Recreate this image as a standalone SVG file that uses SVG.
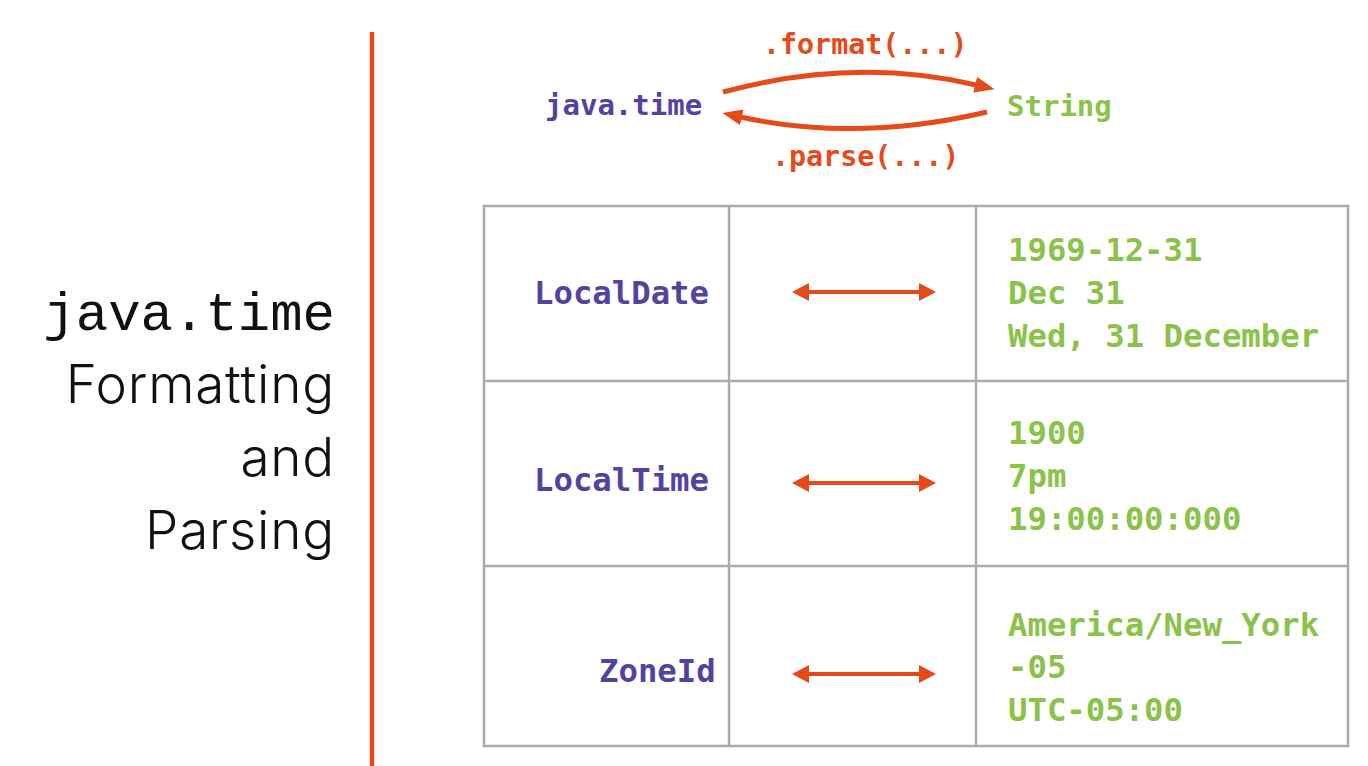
<svg xmlns="http://www.w3.org/2000/svg" width="1368" height="766" viewBox="0 0 1368 766">
<style>
.mono{font-family:"DejaVu Sans Mono","Liberation Mono",monospace;font-weight:bold;}
.purple{fill:#5442A0;}
.green{fill:#8BC34A;}
.orange{fill:#E64A19;}
.cell{font-size:32.3px;}
.top{font-size:29px;}
.title{fill:#111111;font-size:53px;text-anchor:end;}
.sans{font-family:Inter,"Noto Sans",sans-serif;font-weight:300;}
.grid{stroke:#ABABAB;stroke-width:2.5;fill:none;}
.arc{stroke:#E64A19;stroke-width:5;fill:none;}
.dbl{stroke:#E64A19;stroke-width:4;fill:none;}
</style>
<defs>
<marker id="head" markerUnits="userSpaceOnUse" markerWidth="22" markerHeight="18" refX="6" refY="8" orient="auto">
<path d="M0,0 L20,8 L0,16 z" fill="#E64A19"/>
</marker>
<marker id="head2" markerUnits="userSpaceOnUse" markerWidth="20" markerHeight="20" refX="4" refY="9" orient="auto-start-reverse">
<path d="M0,0 L17,9 L0,18 z" fill="#E64A19"/>
</marker>
</defs>
<rect width="1368" height="766" fill="#FFFFFF"/>
<line x1="372" y1="32" x2="372" y2="766" stroke="#E64A19" stroke-width="4.5"/>
<g id="title">
<text x="335" y="330" class="title" style="font-family:'Liberation Mono',monospace;font-size:54px;">java.time</text>
<text x="335" y="403" class="title sans" letter-spacing="0.8">Formatting</text>
<text x="335" y="476" class="title sans" letter-spacing="0.8">and</text>
<text x="335" y="549" class="title sans" letter-spacing="0.8">Parsing</text>
</g>
<g id="node-javatime"><text x="545" y="115" class="mono top purple">java.time</text></g>
<g id="node-string"><text x="1007" y="116" class="mono top green">String</text></g>
<g id="table">
<rect x="484" y="206" width="864" height="540" class="grid"/>
<line x1="729" y1="206" x2="729" y2="746" class="grid"/>
<line x1="976" y1="206" x2="976" y2="746" class="grid"/>
<line x1="484" y1="381" x2="1348" y2="381" class="grid"/>
<line x1="484" y1="566" x2="1348" y2="566" class="grid"/>
</g>
<g id="node-localdate"><text x="534" y="304" class="mono cell purple">LocalDate</text></g>
<g id="node-localtime"><text x="534" y="491" class="mono cell purple">LocalTime</text></g>
<g id="node-zoneid"><text x="599" y="682" class="mono cell purple">ZoneId</text></g>
<g id="node-date-strings">
<text x="1008" y="261" class="mono cell green">1969-12-31</text>
<text x="1008" y="304" class="mono cell green">Dec 31</text>
<text x="1008" y="347" class="mono cell green">Wed, 31 December</text>
</g>
<g id="node-time-strings">
<text x="1008" y="444" class="mono cell green">1900</text>
<text x="1008" y="487" class="mono cell green">7pm</text>
<text x="1008" y="530" class="mono cell green">19:00:00:000</text>
</g>
<g id="node-zone-strings">
<text x="1008" y="636" class="mono cell green">America/New_York</text>
<text x="1008" y="678" class="mono cell green">-05</text>
<text x="1008" y="721" class="mono cell green">UTC-05:00</text>
</g>
<g id="connectors">
<path d="M723,92 Q856,56 981,86" class="arc" marker-end="url(#head)"/>
<path d="M987,112 Q855,143 736,116" class="arc" marker-end="url(#head)"/>
<text x="763" y="54" class="mono top orange" style="font-size:28.3px;">.format(...)</text>
<text x="772" y="166" class="mono top orange" style="font-size:28.3px;">.parse(...)</text>
<line x1="805" y1="292" x2="923" y2="292" class="dbl" marker-start="url(#head2)" marker-end="url(#head2)"/>
<line x1="805" y1="483" x2="923" y2="483" class="dbl" marker-start="url(#head2)" marker-end="url(#head2)"/>
<line x1="805" y1="674" x2="923" y2="674" class="dbl" marker-start="url(#head2)" marker-end="url(#head2)"/>
</g>
</svg>
